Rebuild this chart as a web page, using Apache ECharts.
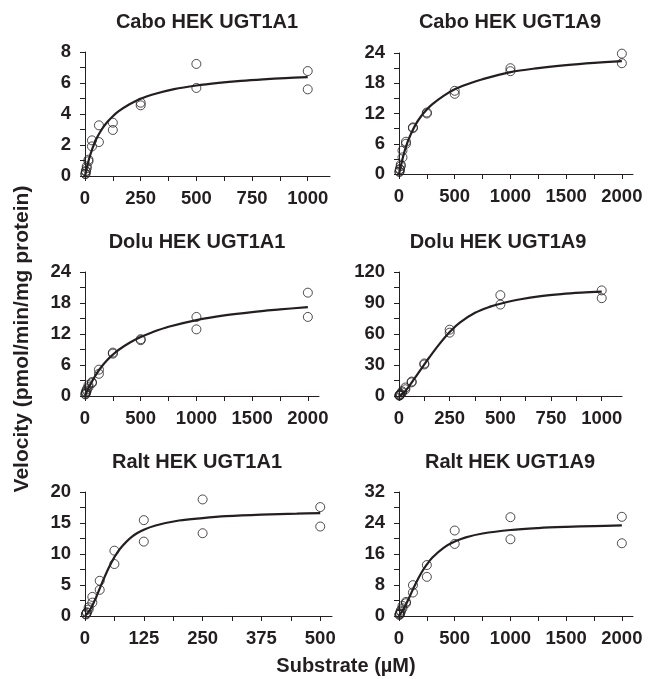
<!DOCTYPE html>
<html>
<head>
    <meta charset="utf-8">
    <title>Velocity vs Substrate</title>
    <script src="https://cdn.jsdelivr.net/npm/echarts@6/dist/echarts.min.js"></script>
    <style>
        html, body {margin: 0; padding: 0; background: #fff;}
        #main {width: 648px; height: 679px;}
    </style>
</head>
<body>
<div id="main"></div>
<script>
    // substrate concentrations (two replicates each)
    var concTo2000 = [2000, 2000, 1000, 1000, 500, 500, 250, 250, 125, 125, 62.5, 62.5, 31.25, 31.25, 15.6, 15.6, 7.8, 7.8, 3.9, 3.9];
    var concTo1000 = [1000, 1000, 500, 500, 250, 250, 125, 125, 62.5, 62.5, 31.25, 31.25, 15.6, 15.6, 7.8, 7.8, 3.9, 3.9, 1.95, 1.95];
    var concTo500 = [500, 500, 250, 250, 125, 125, 62.5, 62.5, 31.25, 31.25, 15.6, 15.6, 7.8, 7.8, 3.9, 3.9, 1.95, 1.95];

    // measured velocities
    var caboA1 = [6.77, 5.59, 7.23, 5.68, 4.73, 4.56, 3.44, 2.97, 3.27, 2.19, 2.3, 1.91, 1.05, 0.95, 0.62, 0.5, 0.33, 0.28, 0.15, 0.12];
    var caboA9 = [23.87, 21.97, 20.98, 20.39, 16.5, 15.9, 12.2, 12.0, 9.25, 9.1, 6.4, 6.0, 4.65, 3.3, 1.85, 1.55, 1.0, 0.85, 0.5, 0.4];
    var doluA1 = [20.0, 15.3, 15.3, 12.9, 11.0, 10.8, 8.4, 8.2, 5.1, 4.3, 2.7, 2.5, 2.1, 1.7, 1.3, 1.0, 0.8, 0.6, 0.4, 0.3];
    var doluA9 = [102.2, 94.7, 97.6, 88.5, 64.2, 61.3, 31.5, 30.5, 14.0, 13.2, 8.2, 6.5, 4.5, 3.4, 2.2, 1.6, 1.0, 0.8, 0.5, 0.4];
    var raltA1 = [17.57, 14.43, 18.8, 13.35, 15.46, 12.0, 10.54, 8.38, 5.68, 4.22, 3.08, 2.16, 1.4, 1.05, 0.6, 0.5, 0.3, 0.25];
    var raltA9 = [25.6, 18.77, 25.5, 19.8, 22.06, 18.6, 13.15, 10.1, 7.96, 6.06, 3.63, 3.3, 2.6, 2.0, 1.4, 1.1, 0.7, 0.55, 0.35, 0.3];

    // fitted curves
    var caboA1FitX = [0, 12.5, 25, 50, 75, 100, 125, 150, 200, 250, 300, 400, 500, 600, 700, 800, 900, 1000];
    var caboA1FitY = [0, 0.78, 1.43, 2.37, 3.0, 3.48, 3.86, 4.17, 4.63, 4.98, 5.24, 5.6, 5.84, 6.01, 6.14, 6.24, 6.32, 6.38];
    var caboA9FitX = [0, 25, 50, 75, 100, 150, 200, 250, 300, 400, 500, 600, 750, 1000, 1250, 1500, 1750, 2000];
    var caboA9FitY = [0, 2.4, 4.5, 6.2, 7.6, 9.85, 11.5, 12.8, 13.85, 15.5, 16.8, 17.7, 18.8, 20.2, 21.0, 21.6, 22.05, 22.4];
    var doluA1FitX = [0, 50, 100, 150, 200, 250, 300, 400, 500, 600, 750, 1000, 1250, 1500, 1750, 2000];
    var doluA1FitY = [0, 2.3, 4.2, 5.7, 6.95, 8.0, 8.9, 10.3, 11.4, 12.3, 13.4, 14.7, 15.6, 16.25, 16.75, 17.2];
    var doluA9FitX = [0, 25, 50, 75, 100, 125, 150, 200, 250, 300, 375, 450, 500, 600, 700, 800, 900, 1000];
    var doluA9FitY = [0, 3.5, 9.5, 16.5, 23.5, 30.5, 37.5, 50.5, 62, 71, 80.5, 86.5, 89.3, 93.6, 96.6, 98.6, 100, 101];
    var raltA1FitX = [0, 10, 20, 30, 40, 50, 62.5, 75, 100, 125, 150, 200, 250, 300, 375, 450, 500];
    var raltA1FitY = [0, 0.9, 2.4, 4.2, 6.0, 7.7, 9.5, 10.9, 12.8, 13.9, 14.6, 15.4, 15.8, 16.1, 16.35, 16.5, 16.6];
    var raltA9FitX = [0, 50, 100, 150, 200, 250, 300, 400, 500, 600, 750, 1000, 1250, 1500, 1750, 2000];
    var raltA9FitY = [0, 2.3, 5.3, 8.4, 11.1, 13.3, 15.1, 17.6, 19.2, 20.3, 21.3, 22.2, 22.7, 23.0, 23.2, 23.4];

    // tick labels
    var xTicks1000 = [0, 250, 500, 750, 1000];
    var xTicks2000 = [0, 500, 1000, 1500, 2000];
    var xTicks500 = [0, 125, 250, 375, 500];
    var yTicks8 = [0, 2, 4, 6, 8];
    var yTicks24 = [0, 6, 12, 18, 24];
    var yTicks120 = [0, 30, 60, 90, 120];
    var yTicks20 = [0, 5, 10, 15, 20];
    var yTicks32 = [0, 8, 16, 24, 32];

    var titles = ['Cabo HEK UGT1A1', 'Cabo HEK UGT1A9', 'Dolu HEK UGT1A1', 'Dolu HEK UGT1A9', 'Ralt HEK UGT1A1', 'Ralt HEK UGT1A9'];

    var ink = '#231f20';
    var font = '"Liberation Sans", Arial, sans-serif';

    // label values plus the minor ticks half way between them
    function withMinor(labels) {
        var out = [];
        for (var i = 0; i < labels.length; i++) {
            out.push(labels[i]);
            if (i < labels.length - 1) out.push((labels[i] + labels[i + 1]) / 2);
        }
        return out;
    }

    function zip(xs, ys) {
        var out = [];
        for (var i = 0; i < ys.length; i++) out.push([xs[i], ys[i]]);
        return out;
    }

    var panels = [
        {grid: {left: 85, top: 52, width: 245, height: 124}, xMax: 1100, xLabels: xTicks1000, yLabels: yTicks8,
            conc: concTo1000, vel: caboA1, fitX: caboA1FitX, fitY: caboA1FitY, title: [207, 22]},
        {grid: {left: 399, top: 53, width: 234, height: 121}, xMax: 2100, xLabels: xTicks2000, yLabels: yTicks24,
            conc: concTo2000, vel: caboA9, fitX: caboA9FitX, fitY: caboA9FitY, title: [510, 22]},
        {grid: {left: 85, top: 272, width: 234, height: 124}, xMax: 2100, xLabels: xTicks2000, yLabels: yTicks24,
            conc: concTo2000, vel: doluA1, fitX: doluA1FitX, fitY: doluA1FitY, title: [197, 242]},
        {grid: {left: 399, top: 272, width: 223, height: 124}, xMax: 1100, xLabels: xTicks1000, yLabels: yTicks120,
            conc: concTo1000, vel: doluA9, fitX: doluA9FitX, fitY: doluA9FitY, title: [498, 242]},
        {grid: {left: 85, top: 492, width: 247, height: 124}, xMax: 525, xLabels: xTicks500, yLabels: yTicks20,
            conc: concTo500, vel: raltA1, fitX: raltA1FitX, fitY: raltA1FitY, title: [197, 462]},
        {grid: {left: 399, top: 492, width: 234, height: 124}, xMax: 2100, xLabels: xTicks2000, yLabels: yTicks32,
            conc: concTo2000, vel: raltA9, fitX: raltA9FitX, fitY: raltA9FitY, title: [510, 462]}
    ];

    var grids = [], xAxes = [], yAxes = [], series = [], graphics = [];

    var axisLine = {show: true, lineStyle: {color: ink, width: 1}};
    var axisTick = {show: true, inside: false, length: 5, lineStyle: {color: ink, width: 1}};
    var plain = function (v) {
        return String(v);
    };

    for (var i = 0; i < panels.length; i++) {
        var p = panels[i];
        grids.push(p.grid);
        xAxes.push({
            type: 'value', gridIndex: i, min: 0, max: p.xMax,
            axisLine: axisLine,
            axisTick: Object.assign({customValues: withMinor(p.xLabels)}, axisTick),
            axisLabel: {customValues: p.xLabels, formatter: plain, margin: 13, color: ink,
                fontSize: 18.5, fontWeight: 'bold', fontFamily: font},
            splitLine: {show: false}
        });
        yAxes.push({
            type: 'value', gridIndex: i, min: 0, max: p.yLabels[p.yLabels.length - 1],
            axisLine: axisLine,
            axisTick: Object.assign({customValues: withMinor(p.yLabels)}, axisTick),
            axisLabel: {customValues: p.yLabels, formatter: plain, margin: 14, color: ink,
                fontSize: 18.5, fontWeight: 'bold', fontFamily: font},
            splitLine: {show: false}
        });
        series.push({
            type: 'line', xAxisIndex: i, yAxisIndex: i,
            data: zip(p.fitX, p.fitY),
            smooth: 0.35, showSymbol: false, silent: true,
            lineStyle: {color: ink, width: 2.2}, z: 2
        });
        series.push({
            type: 'scatter', xAxisIndex: i, yAxisIndex: i,
            data: zip(p.conc, p.vel),
            symbol: 'circle', symbolSize: 9,
            itemStyle: {color: 'rgba(0,0,0,0)', borderColor: ink, borderWidth: 1}, z: 3
        });
        graphics.push({
            type: 'text', x: p.title[0], y: p.title[1],
            style: {text: titles[i], fill: ink, font: 'bold 20px ' + font, textAlign: 'center', textVerticalAlign: 'middle'}
        });
    }

    graphics.push({
        type: 'text', x: 22, y: 339, rotation: Math.PI / 2,
        style: {text: 'Velocity (pmol/min/mg protein)', fill: ink, font: 'bold 21px ' + font, textAlign: 'center', textVerticalAlign: 'middle'}
    });
    graphics.push({
        type: 'text', x: 346, y: 666,
        style: {text: 'Substrate (µM)', fill: ink, font: 'bold 20px ' + font, textAlign: 'center', textVerticalAlign: 'middle'}
    });

    var myChart = echarts.init(document.getElementById('main'));
    myChart.setOption({
        animation: false,
        backgroundColor: '#fff',
        grid: grids,
        xAxis: xAxes,
        yAxis: yAxes,
        series: series,
        graphic: graphics
    });
</script>
</body>
</html>
